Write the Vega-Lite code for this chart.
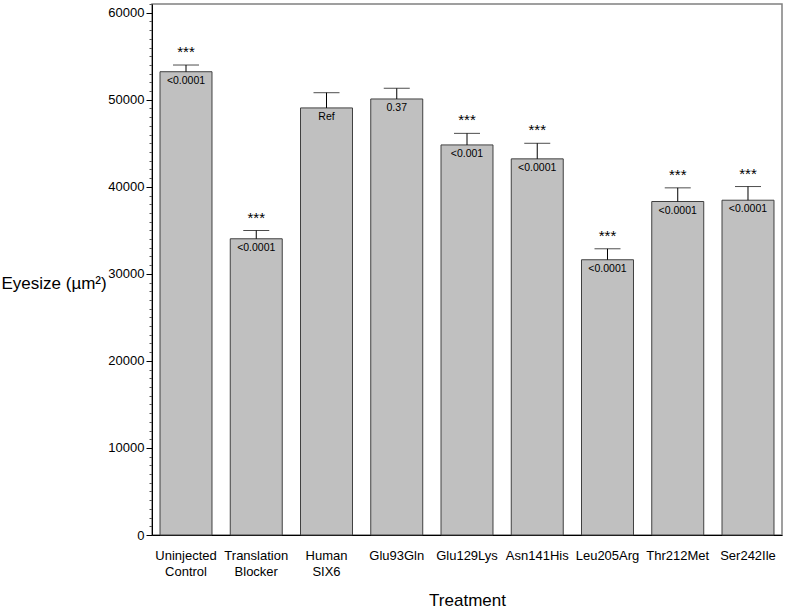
{
  "$schema": "https://vega.github.io/schema/vega-lite/v6.json",
  "width": 630,
  "height": 531,
  "autosize": "none",
  "padding": {"left": 152, "top": 4, "right": 5, "bottom": 81},
  "background": "white",
  "config": {
    "font": "Liberation Sans",
    "view": {"stroke": "#808080", "strokeWidth": 1.5}
  },
  "data": {
    "values": [
      {"t": "Uninjected Control", "mean": 53220, "upper": 53990, "p": "<0.0001", "stars": "***"},
      {"t": "Translation Blocker", "mean": 34030, "upper": 34980, "p": "<0.0001", "stars": "***"},
      {"t": "Human SIX6", "mean": 49060, "upper": 50810, "p": "Ref", "stars": ""},
      {"t": "Glu93Gln", "mean": 50090, "upper": 51310, "p": "0.37", "stars": ""},
      {"t": "Glu129Lys", "mean": 44810, "upper": 46140, "p": "<0.001", "stars": "***"},
      {"t": "Asn141His", "mean": 43210, "upper": 45000, "p": "<0.0001", "stars": "***"},
      {"t": "Leu205Arg", "mean": 31620, "upper": 32880, "p": "<0.0001", "stars": "***"},
      {"t": "Thr212Met", "mean": 38310, "upper": 39880, "p": "<0.0001", "stars": "***"},
      {"t": "Ser242Ile", "mean": 38460, "upper": 40030, "p": "<0.0001", "stars": "***"}
    ]
  },
  "encoding": {
    "x": {
      "field": "t",
      "type": "nominal",
      "sort": null,
      "scale": {"paddingInner": 0.26, "paddingOuter": 0.114},
      "axis": {
        "labelAngle": 0,
        "labelFontSize": 13,
        "labelColor": "black",
        "labelExpr": "split(datum.label, ' ')",
        "labelLineHeight": 16,
        "labelPadding": 14,
        "ticks": false,
        "domainColor": "black",
        "domainWidth": 1,
        "title": "Treatment",
        "titleFontSize": 17,
        "titleFontWeight": "normal",
        "titleColor": "black",
        "titlePadding": 14
      }
    }
  },
  "layer": [
    {
      "mark": {"type": "bar", "fill": "#c0c0c0", "stroke": "#404040", "strokeWidth": 1},
      "encoding": {
        "y": {
          "field": "mean",
          "type": "quantitative",
          "scale": {"domain": [0, 61000], "nice": false},
          "axis": {
            "values": [0,1000,2000,3000,4000,5000,6000,7000,8000,9000,10000,11000,12000,13000,14000,15000,16000,17000,18000,19000,20000,21000,22000,23000,24000,25000,26000,27000,28000,29000,30000,31000,32000,33000,34000,35000,36000,37000,38000,39000,40000,41000,42000,43000,44000,45000,46000,47000,48000,49000,50000,51000,52000,53000,54000,55000,56000,57000,58000,59000,60000,61000],
            "tickCount": 100,
            "format": "d",
            "labelExpr": "datum.value % 10000 === 0 ? datum.label : ''",
            "labelOverlap": false,
            "labelBound": false,
            "grid": false,
            "tickSize": {"condition": {"test": "datum.value % 10000 === 0", "value": 6}, "value": 3},
            "tickWidth": 1,
            "tickColor": {"condition": {"test": "datum.value % 10000 === 0", "value": "black"}, "value": "#555555"},
            "domainColor": "black",
            "labelFontSize": 13,
            "labelColor": "black",
            "labelPadding": 2,
            "title": "Eyesize (µm²)",
            "titleAngle": 0,
            "titleFontSize": 17,
            "titleFontWeight": "normal",
            "titleColor": "black",
            "titleAlign": "left",
            "titleBaseline": "middle",
            "titleX": -151,
            "titleY": 279
          }
        }
      }
    },
    {
      "mark": {"type": "rule", "color": "black", "strokeWidth": 1},
      "encoding": {
        "y": {"field": "mean", "type": "quantitative"},
        "y2": {"field": "upper"}
      }
    },
    {
      "mark": {"type": "tick", "color": "black", "thickness": 1, "size": 26},
      "encoding": {
        "y": {"field": "upper", "type": "quantitative"}
      }
    },
    {
      "mark": {"type": "text", "baseline": "top", "dy": 4, "fontSize": 10.5, "color": "black"},
      "encoding": {
        "y": {"field": "mean", "type": "quantitative"},
        "text": {"field": "p"}
      }
    },
    {
      "mark": {"type": "text", "baseline": "alphabetic", "dy": -8, "fontSize": 15, "color": "black"},
      "encoding": {
        "y": {"field": "upper", "type": "quantitative"},
        "text": {"field": "stars"}
      }
    }
  ]
}
